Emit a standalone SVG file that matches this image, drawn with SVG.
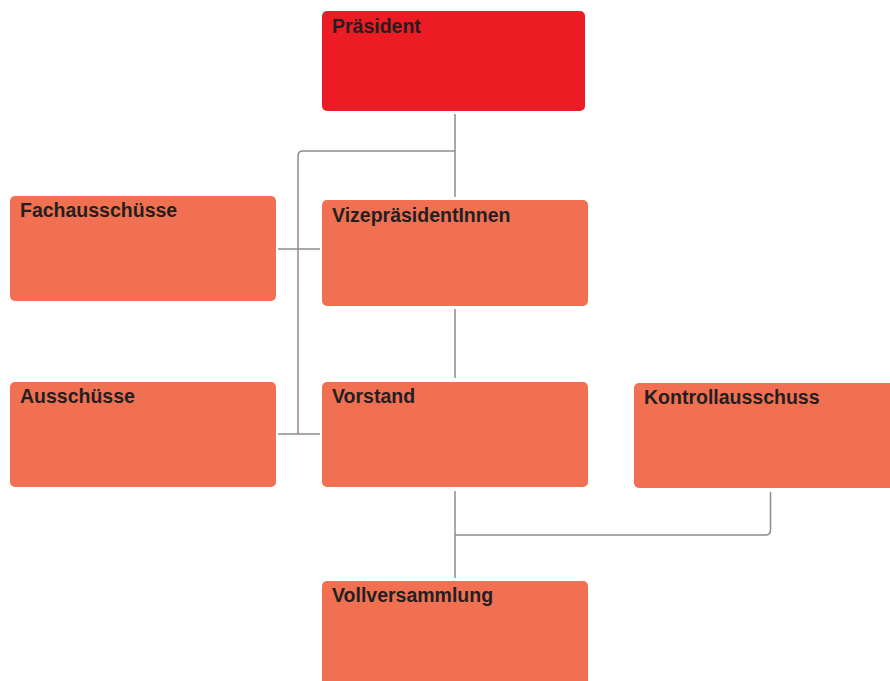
<svg xmlns="http://www.w3.org/2000/svg" width="890" height="681" viewBox="0 0 890 681">
<style>
.box{fill:#F27052}
.top{fill:#ED1C24}
.lbl{font-family:"Liberation Sans",Arial,Helvetica,sans-serif;font-weight:bold;font-size:19.5px;fill:#231F20}
.con{fill:none;stroke:#8C8C8C;stroke-width:1.5}
</style>
<rect width="890" height="681" fill="#FFFFFF"/>
<g id="connectors">
<path class="con" d="M455,114 V197"/>
<path class="con" d="M455,151 H303 Q298,151 298,156 V434"/>
<path class="con" d="M278,249 H320"/>
<path class="con" d="M278,434 H320"/>
<path class="con" d="M455,309 V378"/>
<path class="con" d="M455,491 V578"/>
<path class="con" d="M770.5,492 V530 Q770.5,535 765.5,535 H455"/>
</g>
<g id="praesident">
<rect class="top" x="322" y="11" width="263" height="100" rx="5"/>
<text class="lbl" x="332" y="33">Präsident</text>
</g>
<g id="vize">
<rect class="box" x="322" y="200" width="266" height="106" rx="5"/>
<text class="lbl" x="332" y="222">VizepräsidentInnen</text>
</g>
<g id="fachausschuesse">
<rect class="box" x="10" y="196" width="266" height="105" rx="5"/>
<text class="lbl" x="20" y="217">Fachausschüsse</text>
</g>
<g id="ausschuesse">
<rect class="box" x="10" y="382" width="266" height="105" rx="5"/>
<text class="lbl" x="20" y="403">Ausschüsse</text>
</g>
<g id="vorstand">
<rect class="box" x="322" y="382" width="266" height="105" rx="5"/>
<text class="lbl" x="332" y="403">Vorstand</text>
</g>
<g id="kontrollausschuss">
<rect class="box" x="634" y="383" width="266" height="105" rx="5"/>
<text class="lbl" x="644" y="404">Kontrollausschuss</text>
</g>
<g id="vollversammlung">
<rect class="box" x="322" y="581" width="266" height="110" rx="5"/>
<text class="lbl" x="332" y="602">Vollversammlung</text>
</g>
</svg>
